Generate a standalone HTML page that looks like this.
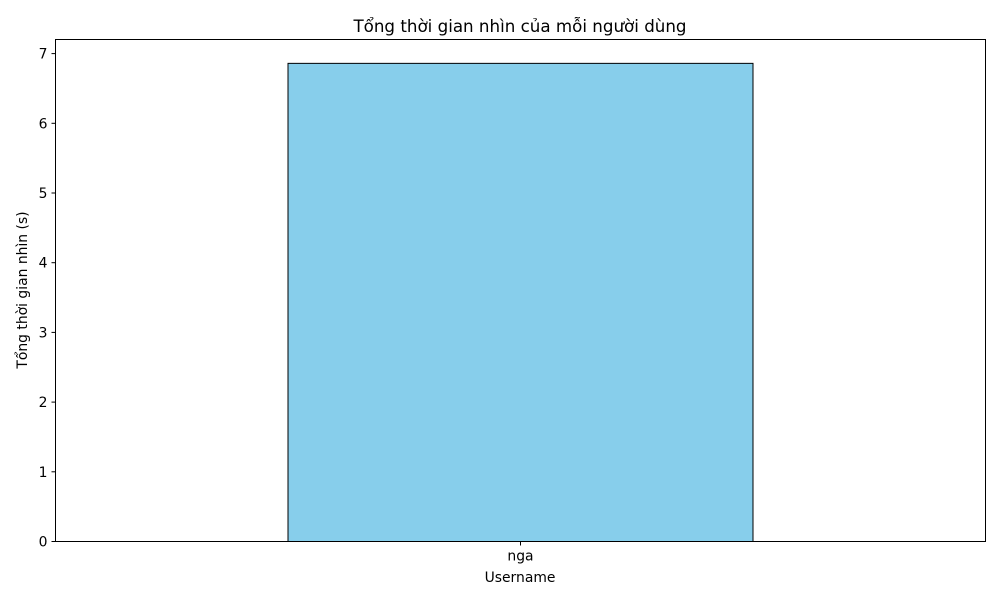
<!DOCTYPE html>
<html><head><meta charset="utf-8"><style>
body{margin:0;background:#fff;}
svg text{font-family:"DejaVu Sans","Liberation Sans",sans-serif;fill:#000;}
</style></head><body>
<svg width="1000" height="600" xmlns="http://www.w3.org/2000/svg">
<text x="520" y="32" font-size="16.7" text-anchor="middle">Tổng thời gian nhìn của mỗi người dùng</text>
<g id="plot"></g>
<rect x="55.5" y="39.5" width="930" height="502" fill="none" stroke="#000" stroke-width="1"/>
<text x="520" y="582" font-size="13.9" text-anchor="middle">Username</text>
<text transform="translate(27,290) rotate(-90)" font-size="13.9" text-anchor="middle">Tổng thời gian nhìn (s)</text>
</svg>
<script>
const categories = ["nga"];
const values = [6.86];
const yTicks = [0,1,2,3,4,5,6,7];
const NS = "http://www.w3.org/2000/svg";
const g = document.getElementById("plot");
const x0 = 55.5, x1 = 985.5, yBase = 541.5, yUnit = 69.7;
function y(v){ return yBase - v*yUnit; }
function xBand(i){ const w=(x1-x0)/categories.length; return x0 + w*i + w/2; }
yTicks.forEach(t=>{
  const l=document.createElementNS(NS,"line");
  
  
  l.setAttribute("x1",x0-4);l.setAttribute("x2",x0);l.setAttribute("y1",y(t));l.setAttribute("y2",y(t));l.setAttribute("stroke","#000");
  g.appendChild(l);
  const tx=document.createElementNS(NS,"text");
  
  
  tx.setAttribute("x",x0-8);tx.setAttribute("y",y(t)+5);tx.setAttribute("font-size","13.9");tx.setAttribute("text-anchor","end");
  tx.textContent=t; g.appendChild(tx);
});
categories.forEach((c,i)=>{
  const cx=xBand(i), bw=(x1-x0)/categories.length*0.5;
  const r=document.createElementNS(NS,"rect");
  
  
  r.setAttribute("x",cx-bw/2);r.setAttribute("y",y(values[i]));r.setAttribute("width",bw);r.setAttribute("height",yBase-y(values[i]));
  r.setAttribute("fill","#87ceeb");r.setAttribute("stroke","#000");r.setAttribute("stroke-width","1");
  g.appendChild(r);
  const l=document.createElementNS(NS,"line");
  
  
  l.setAttribute("x1",cx);l.setAttribute("x2",cx);l.setAttribute("y1",yBase);l.setAttribute("y2",yBase+4);l.setAttribute("stroke","#000");
  g.appendChild(l);
  const tx=document.createElementNS(NS,"text");
  
  
  tx.setAttribute("x",cx);tx.setAttribute("y",yBase+19);tx.setAttribute("font-size","13.9");tx.setAttribute("text-anchor","middle");
  tx.textContent=c; g.appendChild(tx);
});
</script>
</body></html>
